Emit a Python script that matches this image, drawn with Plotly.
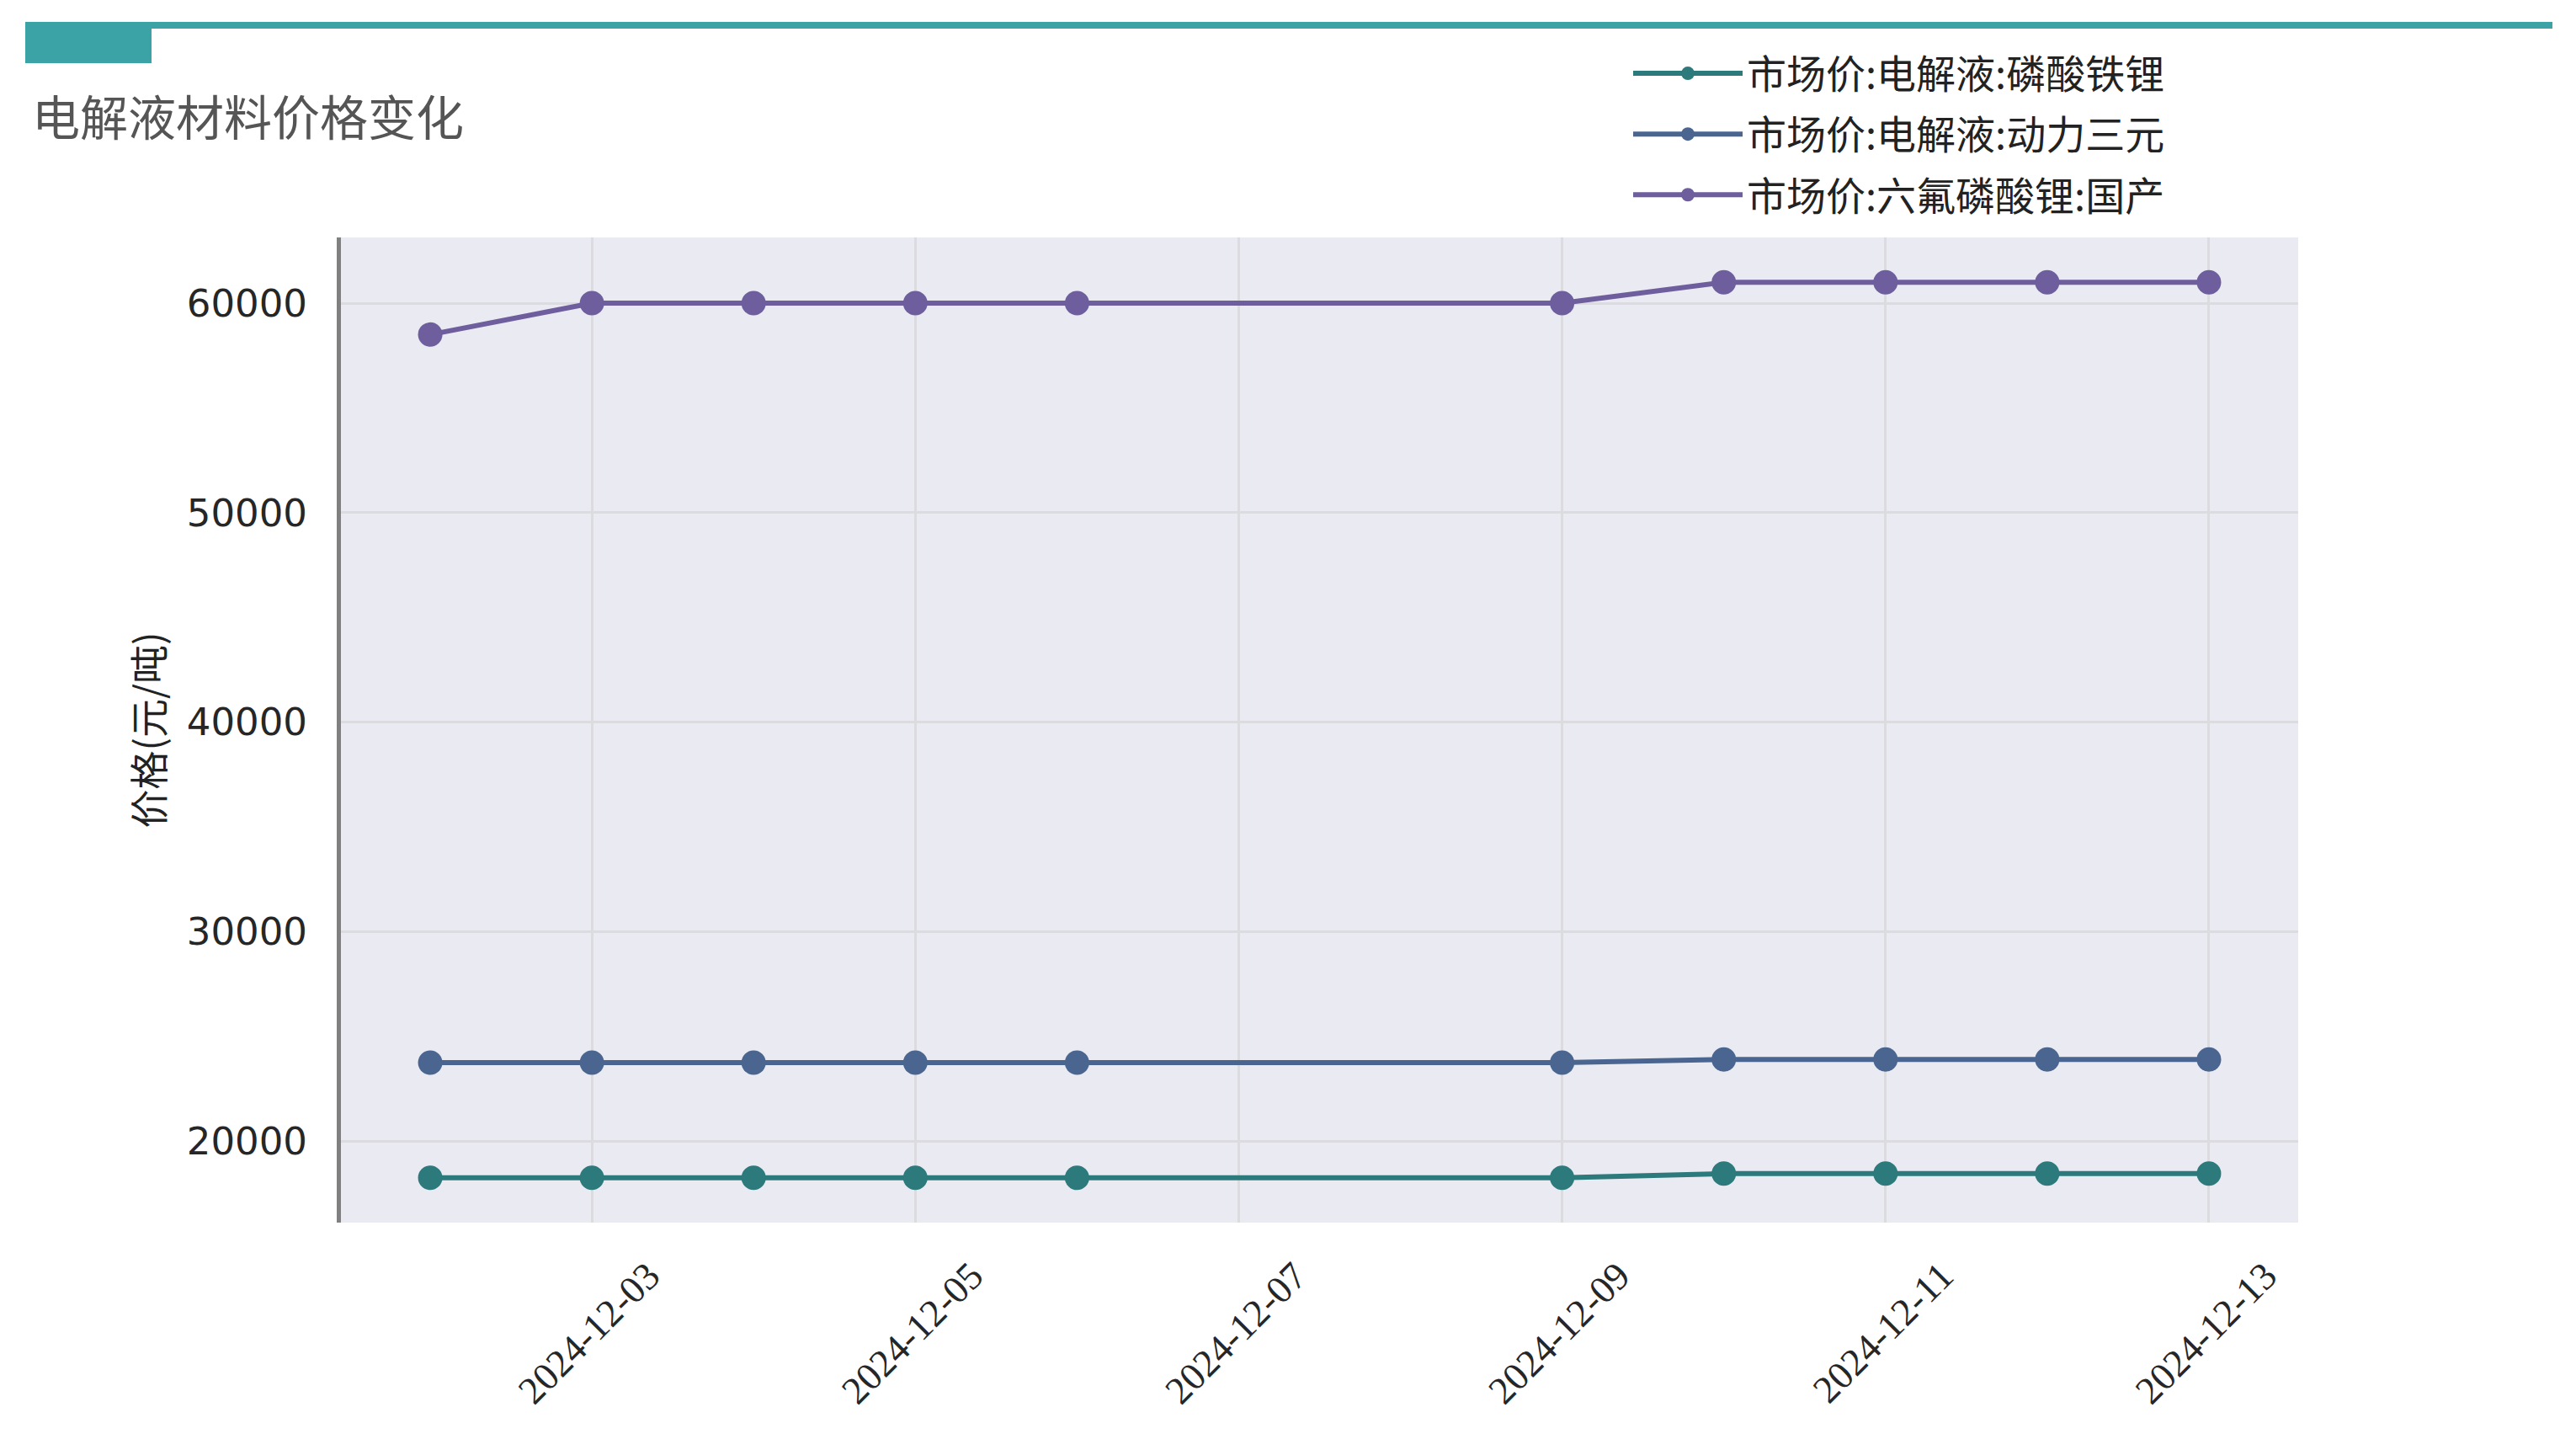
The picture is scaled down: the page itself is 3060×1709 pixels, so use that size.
import plotly.graph_objs as go

# trading days shown on the chart
dates = ["2024-12-02", "2024-12-03", "2024-12-04", "2024-12-05", "2024-12-06",
         "2024-12-09", "2024-12-10", "2024-12-11", "2024-12-12", "2024-12-13"]

# prices, yuan / ton
lfp_electrolyte = [18250, 18250, 18250, 18250, 18250, 18250, 18450, 18450, 18450, 18450]
ncm_electrolyte = [23750, 23750, 23750, 23750, 23750, 23750, 23900, 23900, 23900, 23900]
lipf6_domestic = [58500, 60000, 60000, 60000, 60000, 60000, 61000, 61000, 61000, 61000]

names = ["市场价:电解液:磷酸铁锂", "市场价:电解液:动力三元", "市场价:六氟磷酸锂:国产"]
colors = ["#2C7A7B", "#4A6690", "#6E5E9E"]

title_text = "电解液材料价格变化"
y_title = "价格(元/吨)"

W, H = 3060, 1709
L, R, T, B = 405, 330, 282, 257
plot_w = W - L - R
plot_h = H - T - B

cjk = "Noto Sans CJK SC"


def px_x(x):
    return (x - L) / plot_w


def px_y(y):
    return (H - B - y) / plot_h


fig = go.Figure()
series = [lfp_electrolyte, ncm_electrolyte, lipf6_domestic]
for i in range(len(series)):
    fig.add_trace(go.Scatter(
        x=dates, y=series[i], name=names[i], mode="lines+markers",
        legendgroup="g%d" % i,
        line=dict(color=colors[i], width=6),
        marker=dict(color=colors[i], size=29),
    ))

# teal header bar + block
fig.add_shape(type="line", xref="paper", yref="paper",
              x0=px_x(30), x1=px_x(3032), y0=px_y(30), y1=px_y(30),
              line=dict(color="#3BA3A5", width=8))
fig.add_shape(type="rect", xref="paper", yref="paper",
              x0=px_x(30), x1=px_x(180), y0=px_y(26), y1=px_y(75),
              fillcolor="#3BA3A5", line=dict(width=0))

fig.add_annotation(text=title_text, xref="paper", yref="paper",
                   x=px_x(36), y=px_y(136), xanchor="left", yanchor="middle",
                   showarrow=False, font=dict(family=cjk, size=57, color="#555555"))

fig.update_layout(
    width=W, height=H,
    margin=dict(l=L, r=R, t=T, b=B, autoexpand=False),
    paper_bgcolor="white",
    plot_bgcolor="#EAEAF2",
    legend=dict(
        x=px_x(1935), y=px_y(50), xanchor="left", yanchor="top",
        font=dict(family=cjk, size=47, color="#222222"),
        bgcolor="rgba(0,0,0,0)", itemwidth=130, tracegroupgap=8,
    ),
)

fig.update_xaxes(
    type="date",
    range=["2024-12-01 10:45", "2024-12-13 13:15"],
    tick0="2024-12-03", dtick=2 * 86400000, tickformat="%Y-%m-%d",
    tickangle=-45, ticklabelshift=67, ticklabelstandoff=26,
    tickfont=dict(family="Liberation Serif", size=46, color="#262626"),
    showgrid=True, gridcolor="#DCDCE0", gridwidth=3,
    showline=False, zeroline=False, ticks="", automargin=False,
)

fig.update_yaxes(
    range=[16112, 63137],
    tick0=20000, dtick=10000, tickformat="d",
    tickfont=dict(family="DejaVu Sans", size=45, color="#262626"),
    ticklabelstandoff=26,
    showgrid=True, gridcolor="#DCDCE0", gridwidth=3,
    showline=True, linecolor="#808080", linewidth=5,
    zeroline=False, ticks="", automargin=False,
    title=dict(text=y_title, standoff=14,
               font=dict(family=cjk, size=46, color="#222222")),
)

fig.write_html("out.html", config={"displayModeBar": False},
               post_script="document.body.style.margin='0';")
